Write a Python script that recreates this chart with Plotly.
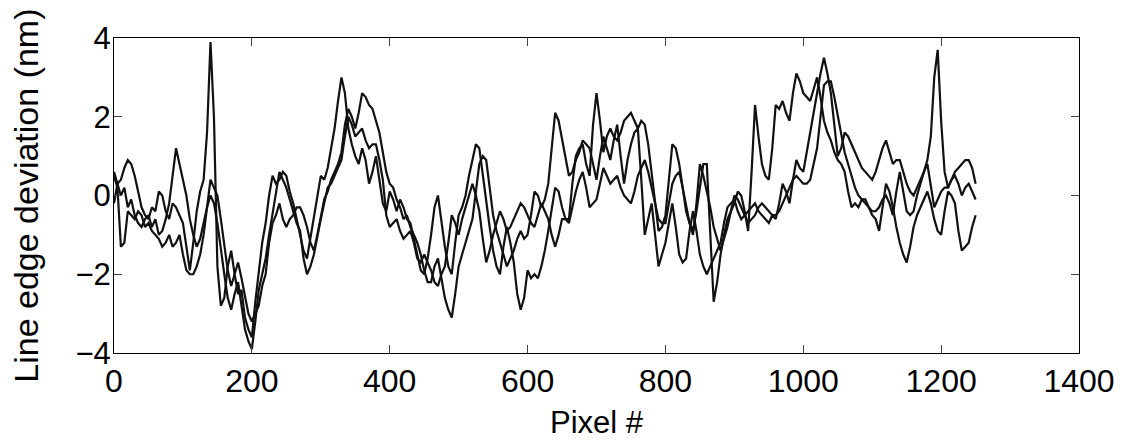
import plotly.graph_objects as go

# pixel position along the line edge (sampled every 5 pixels)
pixel = list(range(0, 1255, 5))

edge_1 = [
    0.6, 0.3, 0.4, 0.7, 0.9, 0.8, 0.5, 0.1, -0.3, -0.5,
    -0.6, -0.3, -0.4, 0.1, 0.0, -0.4, -0.6, -0.2, -0.3, -0.5,
    -0.7, -1.3, -1.9, -1.2, -0.4, 0.1, 0.4, 1.6, 3.9, 2.0,
    -1.8, -2.8, -2.6, -1.8, -1.4, -2.0, -2.5, -2.4, -3.1, -3.4,
    -3.6, -2.7, -1.9, -1.2, -0.7, 0.0, 0.5, 0.3, 0.4, 0.6,
    0.5, 0.1, -0.2, -0.6, -1.0, -1.4, -1.6, -1.1, -0.6, 0.0,
    0.5, 0.4, 0.7, 1.2, 1.7, 2.4, 3.0, 2.6, 1.7, 1.3,
    1.0, 0.8, 1.2, 0.9, 0.3, 0.6, 1.0, 0.4, -0.2, -0.4,
    0.1, -0.1, -0.4, -0.1, -0.3, -0.6, -0.7, -1.1, -1.5, -1.9,
    -2.0, -1.6, -1.0, -0.3, 0.0, -0.7, -1.3, -1.8, -2.0, -1.2,
    -0.5, -0.3, 0.0, 0.5, 0.9, 1.3, 1.2, 0.5, -0.2, -0.8,
    -1.4, -1.8, -2.0, -1.3, -0.8, -1.2, -1.7, -2.5, -2.9, -2.6,
    -1.9, -2.1, -2.0, -2.1, -1.8, -1.4, -0.9, -0.3, 0.2, 0.1,
    -0.3, -0.6, -0.6, 0.3, 1.0, 1.2, 1.3, 0.8, 0.5, 1.8,
    2.6, 1.9, 1.1, 1.5, 1.7, 1.5, 1.4, 1.6, 1.9, 2.0,
    2.1, 1.9, 1.7, 1.9, 1.8, 1.3, 0.6, -0.2, -0.9, -0.8,
    -0.5, 0.4, 1.3, 1.2, 0.8, 0.2, -0.4, -0.7, -0.9, -0.4,
    0.2, 0.8, 0.8, -1.0, -2.7, -2.2, -1.5, -1.0, -0.6, -0.4,
    -0.2, 0.1, 0.0, -0.4, -0.9, 0.6, 2.3, 1.5, 0.8, 0.5,
    0.4, 1.2, 2.3, 2.2, 2.4, 2.1, 1.9, 2.6, 3.1, 2.9,
    2.6, 2.5, 2.4, 2.7, 3.0, 2.5, 1.9, 1.6, 1.4, 1.1,
    0.9, 0.8, 0.6, 0.1, -0.3, -0.2, -0.3, -0.1, -0.1, -0.3,
    -0.5, -0.6, -0.9, -0.3, 0.3, 0.1, -0.3, -0.8, -1.2, -1.5,
    -1.7, -1.3, -0.8, -0.5, -0.3, -0.1, 0.1, -0.2, -0.6, -0.9,
    -1.0, -0.4, 0.1, 0.0, -0.2, -0.9, -1.4, -1.3, -1.2, -0.8,
    -0.5,
]
edge_2 = [
    0.5, 0.2, -1.3, -1.2, -0.4, -0.5, -0.6, -0.4, -0.5, -0.8,
    -0.7, -0.9, -1.0, -1.1, -1.3, -1.2, -1.0, -1.3, -1.2, -1.0,
    -1.5, -1.9, -2.0, -2.0, -1.8, -1.5, -1.0, -0.3, 0.4, 0.2,
    0.0, -0.6, -1.2, -1.9, -2.3, -2.0, -1.7, -2.1, -2.6, -3.0,
    -3.2, -3.0, -2.8, -2.3, -2.0, -1.2, -0.7, -0.5, -0.2, -0.6,
    -0.8, -0.6, -0.5, -0.3, -0.3, -0.5, -0.8, -1.2, -1.4, -1.0,
    -0.5, -0.1, 0.1, 0.4, 0.6, 0.8, 1.1, 1.8, 2.2, 2.0,
    1.7, 2.1, 2.6, 2.5, 2.3, 2.2, 1.9, 1.6, 1.1, 0.6,
    0.3, 0.2, -0.1, -0.3, -0.6, -0.5, -0.8, -1.0, -1.2, -1.5,
    -1.9, -2.2, -2.2, -1.8, -1.6, -2.1, -2.6, -2.9, -3.1, -2.5,
    -1.8, -1.5, -1.2, -0.9, -0.6, 0.1, 0.8, 1.0, 0.9, 0.2,
    -0.5, -0.9, -1.2, -1.5, -1.8, -1.6, -1.4, -1.1, -0.9, -1.1,
    -1.0, -0.5, 0.1, 0.0, -0.3, -0.1, 0.3, 1.2, 2.1, 1.9,
    1.4, 0.9, 0.5, 0.6, 0.9, 1.1, 1.4, 1.3, 1.2, 0.8,
    0.4, 1.0, 1.5, 1.2, 0.9, 1.4, 1.8, 1.0, 0.3, 0.9,
    1.3, 1.6, 1.7, 0.4, -1.0, -0.6, -0.2, -1.0, -1.8, -1.5,
    -1.2, -0.7, -0.2, -0.8, -1.5, -1.7, -1.6, -0.9, -0.4, -0.9,
    -1.5, -1.8, -2.0, -1.8, -1.6, -1.4, -1.2, -0.7, -0.3, -0.2,
    -0.1, -0.4, -0.6, -0.5, -0.4, -0.3, -0.2, -0.4, -0.5, -0.6,
    -0.7, -0.5, -0.6, -0.2, 0.3, 0.1, -0.2, 0.4, 0.9, 0.7,
    0.6, 1.1, 1.6, 2.1, 2.7, 3.1, 3.5, 3.1, 2.6, 1.8,
    1.0, 1.2, 1.6, 1.5, 1.3, 1.1, 0.9, 0.7, 0.6, 0.5,
    0.4, 0.6, 0.9, 1.2, 1.4, 1.1, 0.8, 0.9, 0.9, 0.6,
    0.3, 0.1, 0.0, 0.2, 0.4, 0.6, 0.9, 1.5, 3.0, 3.7,
    1.9, 0.6, 0.2, 0.4, 0.6, 0.7, 0.8, 0.9, 0.9, 0.7,
    0.3,
]
edge_3 = [
    -0.2, 0.3, 0.0, 0.2, -0.3, -0.1, -0.5, -0.7, -0.8, -0.6,
    -0.5, -0.8, -0.6, -1.0, -0.9, -0.6, -0.2, 0.5, 1.2, 0.8,
    0.4, 0.0, -0.6, -1.0, -1.3, -1.1, -0.7, -0.3, 0.0, -0.2,
    -0.7, -1.4, -2.0, -2.6, -2.9, -2.5, -2.2, -2.8, -3.4, -3.7,
    -3.9, -3.2, -2.4, -2.0, -1.6, -1.0, -0.5, 0.1, 0.6, 0.4,
    0.2, -0.1, -0.4, -0.7, -0.9, -1.6, -2.0, -1.8, -1.5, -1.0,
    -0.6, -0.2, 0.2, 0.3, 0.5, 0.7, 0.9, 1.5, 2.0, 1.8,
    1.5, 1.6, 1.7, 1.4, 1.2, 1.3, 1.3, 0.9, 0.4, -0.5,
    -0.8, -0.7, -0.6, -0.9, -1.1, -1.0, -0.9, -1.2, -1.6, -1.7,
    -1.5, -1.7, -1.9, -2.2, -2.3, -2.0, -1.8, -1.2, -0.5, -0.7,
    -1.0, -0.6, -0.3, 0.0, 0.3, 0.0, -0.4, -1.1, -1.7, -1.4,
    -1.0, -0.7, -0.4, -0.6, -0.9, -0.8, -0.6, -0.4, -0.2, -0.3,
    -0.5, -0.7, -0.8, -0.5, -0.2, -0.4, -0.6, -1.0, -1.3, -1.0,
    -0.6, -0.6, -0.7, -0.3, 0.1, 0.4, 0.6, 0.2, -0.3, -0.2,
    -0.1, 0.3, 0.7, 0.5, 0.3, 0.4, 0.5, 0.2, 0.0, -0.1,
    -0.2, 0.1, 0.5, 0.7, 0.9, 0.6, 0.2, -0.2, -0.6, -0.7,
    -0.7, -0.2, 0.3, 0.5, 0.6, 0.2, -0.3, -0.7, -1.0, -0.2,
    0.8, 0.5, 0.1, -0.3, -0.8, -1.1, -1.4, -1.1, -0.8, -0.4,
    0.0, -0.1, -0.3, -0.5, -0.7, -0.6, -0.5, -0.3, -0.2, -0.3,
    -0.4, -0.5, -0.5, -0.4, -0.2, 0.0, 0.2, 0.4, 0.5, 0.4,
    0.3, 0.3, 0.4, 0.8, 1.2, 2.0, 2.8, 2.9, 2.9, 2.5,
    2.0, 1.5, 1.1, 0.8, 0.5, 0.2, 0.0, -0.1, -0.2, -0.3,
    -0.4, -0.4, -0.3, -0.1, 0.0, -0.2, -0.5, 0.1, 0.6, 0.1,
    -0.4, -0.5, -0.4, 0.0, 0.3, 0.6, 0.8, 0.3, -0.3, -0.1,
    0.1, 0.2, 0.2, 0.4, 0.5, 0.3, 0.0, 0.2, 0.3, 0.1,
    -0.1,
]

x_ticks = [0, 200, 400, 600, 800, 1000, 1200, 1400]
y_ticks = [-4, -2, 0, 2, 4]

fig = go.Figure()
for ys in (edge_1, edge_2, edge_3):
    fig.add_scatter(x=pixel, y=ys, mode="lines",
                    line=dict(color="#111111", width=2.2),
                    showlegend=False)

fig.update_layout(
    width=1127, height=445,
    margin=dict(l=114, r=42, t=38, b=92),
    plot_bgcolor="white", paper_bgcolor="white",
    font=dict(family="Liberation Sans, Arial", size=31, color="black"),
)
fig.update_xaxes(range=[0, 1400], tickvals=x_ticks, ticks="inside", ticklen=8,
                 showline=True, mirror="ticks", linecolor="black", linewidth=1,
                 showgrid=False, zeroline=False, tickfont=dict(size=32))
fig.update_yaxes(range=[-4, 4], tickvals=y_ticks, ticks="inside", ticklen=8,
                 showline=True, mirror="ticks", linecolor="black", linewidth=1,
                 showgrid=False, zeroline=False, ticklabelstandoff=-4)

# axis titles placed as annotations
fig.add_annotation(text="Line edge deviation (nm)", xref="paper", yref="paper",
                   x=-0.092, y=0.5, textangle=-90, showarrow=False,
                   font=dict(size=34), xanchor="center", yanchor="middle")
fig.add_annotation(text="Pixel #", xref="paper", yref="paper",
                   x=0.5, y=-0.22, showarrow=False, font=dict(size=31),
                   xanchor="center", yanchor="middle")

# drop the default page margin so the figure sits at the window's corner
fig.write_html("out.html", config={"displayModeBar": False},
               post_script="document.body.style.margin='0';")
